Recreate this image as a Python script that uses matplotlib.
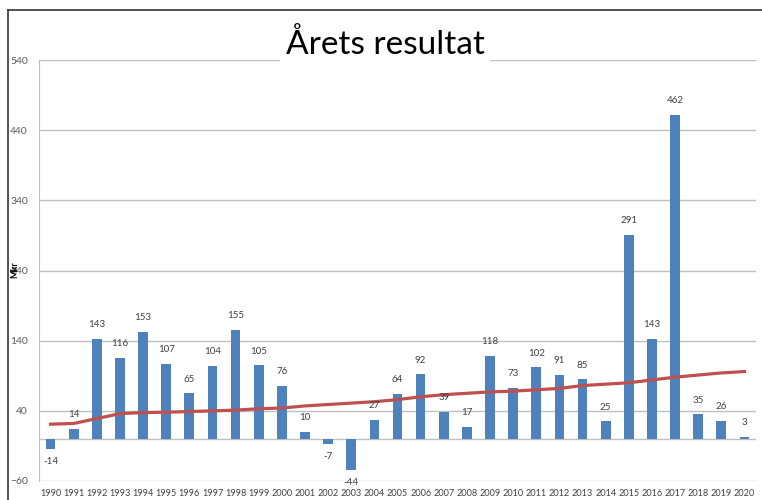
import matplotlib.pyplot as plt
from matplotlib.lines import Line2D
import numpy as np

# --- Data ---
years = list(range(1990, 2021))
result = [-14, 14, 143, 116, 153, 107, 65, 104, 155, 105, 76, 10, -7, -44, 27,
          64, 92, 39, 17, 118, 73, 102, 91, 85, 25, 291, 143, 462, 35, 26, 3]
trend = [21, 22, 29, 36, 37.5, 38, 39, 40, 41, 43, 44, 47, 49, 51, 53,
         56, 60, 63, 65, 67, 68, 70, 72, 76, 78, 80, 84, 88, 91, 94, 96]
yticks = [-60, 40, 140, 240, 340, 440, 540]

plt.rcParams['font.family'] = ['Lato', 'DejaVu Sans']

fig = plt.figure(figsize=(7.62, 5), dpi=100)
ax = fig.add_axes([39 / 762, 1 - 481 / 500, (756 - 39) / 762, (481 - 60) / 500])

x = np.arange(len(years))
ax.bar(x, result, width=0.42, color='#4F81BD', zorder=3)
ax.plot(x, trend, color='#C0504D', lw=2.3, zorder=4)

for xi, v in zip(x, result):
    if v >= 0:
        ax.annotate(str(v), (xi, v), xytext=(0, 7), textcoords='offset points',
                    ha='center', va='bottom', fontsize=7, color='#404040', zorder=5)
    else:
        ax.annotate(str(v), (xi, v), xytext=(0, -6), textcoords='offset points',
                    ha='center', va='top', fontsize=7, color='#404040', zorder=5)

ax.set_xlim(-0.5, len(years) - 0.5)
ax.set_ylim(-60, 540)
ax.set_yticks(yticks)
ax.set_xticks(x)
ax.set_xticklabels([str(y) for y in years])
ax.tick_params(axis='y', length=0, labelsize=7.5, colors='#595959', pad=8)
ax.tick_params(axis='x', length=0, labelsize=6.6, colors='#404040', pad=6)

ax.yaxis.grid(True, color='#BFBFBF', lw=1, zorder=0)
ax.axhline(0, color='#BFBFBF', lw=1, zorder=1)
for s in ['top', 'right', 'bottom']:
    ax.spines[s].set_visible(False)
ax.spines['left'].set_color('#BFBFBF')

fig.text(15 / 762, 1 - 270 / 500, 'Mkr', rotation=90, fontsize=6.5,
         fontweight='bold', ha='center', va='center')

fig.text(385 / 762, 1 - 45 / 500, 'Årets resultat', fontsize=24, ha='center',
         va='center', bbox=dict(facecolor='white', edgecolor='none', pad=4), zorder=10)

# frame lines of the screenshot
fig.add_artist(Line2D([8 / 762, 8 / 762], [0, 1 - 10 / 500], color='#333333', lw=1.2))
fig.add_artist(Line2D([8 / 762, 1], [1 - 10 / 500, 1 - 10 / 500], color='#333333', lw=1.2))

fig.savefig('out.png', dpi=100)
